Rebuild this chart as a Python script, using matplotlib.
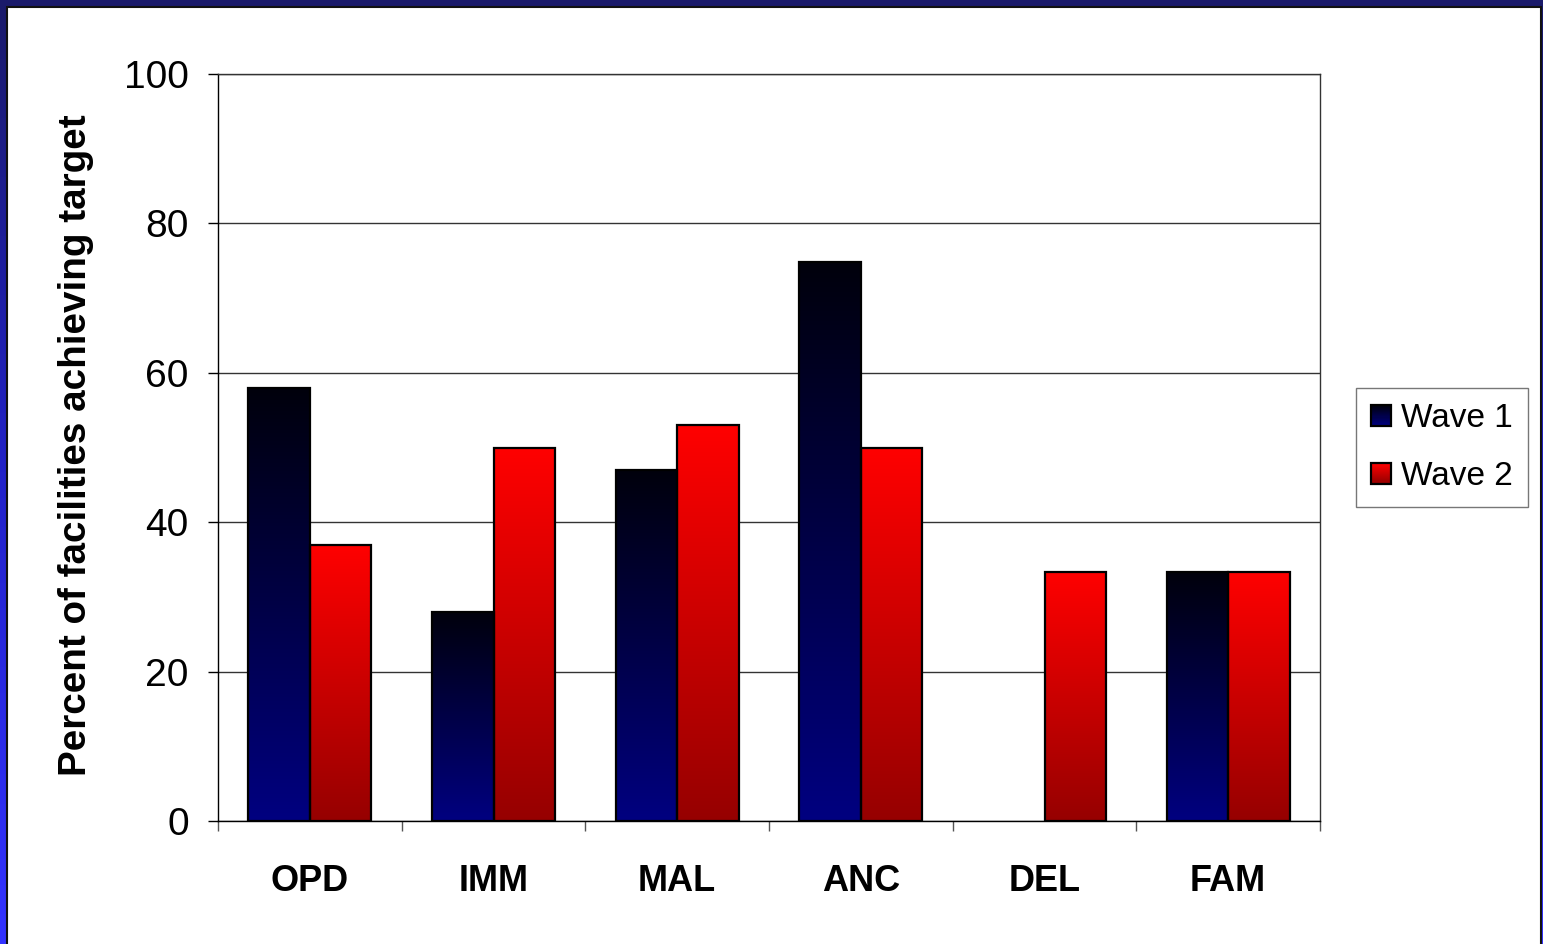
import numpy as np
import matplotlib
matplotlib.use("Agg")
import matplotlib.pyplot as plt
from matplotlib.colors import LinearSegmentedColormap
from matplotlib.patches import Rectangle
from matplotlib.legend_handler import HandlerBase

plt.rcParams['font.family'] = ['Liberation Sans', 'DejaVu Sans']

categories = ["OPD", "IMM", "MAL", "ANC", "DEL", "FAM"]
wave1 = [57.9, 28.0, 47.0, 74.8, 0.0, 33.3]
wave2 = [36.9, 50.0, 53.0, 50.0, 33.3, 33.3]
series_names = ["Wave 1", "Wave 2"]
y_ticks = [0, 20, 40, 60, 80, 100]
y_label = "Percent of facilities achieving target"

# top colour -> bottom colour for each series gradient
grad_w1 = ("#00000c", "#000080")
grad_w2 = ("#ff0000", "#960000")

W, H = 1543, 944
fig = plt.figure(figsize=(W / 100, H / 100), dpi=100)

# slide background: vertical blue gradient with a white panel on top
bg = fig.add_axes([0, 0, 1, 1], zorder=-10)
bg.set_axis_off()
bg_cmap = LinearSegmentedColormap.from_list("bg", ["#1a1a6a", "#2222c8", "#3333ff"])
bg.imshow(np.linspace(0, 1, 256).reshape(-1, 1), cmap=bg_cmap, aspect="auto",
          extent=(0, W, 0, H), origin="upper")
bg.add_patch(Rectangle((7, -5), 1534, H - 7 + 5, facecolor="white",
                       edgecolor="#111111", linewidth=1.5))
bg.set_xlim(0, W)
bg.set_ylim(0, H)

ax = fig.add_axes([218 / W, (H - 821) / H, (1320 - 218) / W, (821 - 74) / H])
ax.set_facecolor("white")

x = np.arange(len(categories))
bw = 0.335


def gradient_bars(xpos, values, colors):
    cmap = LinearSegmentedColormap.from_list("g", [colors[1], colors[0]])
    widths = [1.6 if v > 0 else 0 for v in values]
    bars = ax.bar(xpos, values, width=bw, facecolor="none", edgecolor="black",
                  linewidth=widths, zorder=4)
    grad = np.linspace(0, 1, 256).reshape(-1, 1)
    for b in bars:
        h = b.get_height()
        if h <= 0:
            continue
        x0 = b.get_x()
        ax.imshow(grad, cmap=cmap, aspect="auto", origin="lower",
                  extent=(x0, x0 + b.get_width(), 0, h), zorder=3,
                  interpolation="bilinear")
    return bars


gradient_bars(x - bw / 2, wave1, grad_w1)
gradient_bars(x + bw / 2, wave2, grad_w2)

ax.set_xlim(-0.5, len(categories) - 0.5)
ax.set_ylim(0, 100)
ax.set_yticks(y_ticks)
ax.set_yticklabels([str(t) for t in y_ticks], fontsize=28)
ax.yaxis.grid(True, color="#333333", linewidth=1.0, zorder=0)
ax.set_axisbelow(True)
ax.tick_params(axis="y", direction="out", length=7, width=1, pad=14)

ax.set_xticks(x)
ax.set_xticklabels(categories, fontsize=26, fontweight="bold")
ax.tick_params(axis="x", which="major", length=0, pad=31)
ax.set_xticks(np.arange(len(categories) + 1) - 0.5, minor=True)
ax.tick_params(axis="x", which="minor", direction="out", length=7, width=1,
               color="#555555")

for side in ("top", "right"):
    ax.spines[side].set_color("#333333")
    ax.spines[side].set_linewidth(1.0)
for side in ("left", "bottom"):
    ax.spines[side].set_color("black")
    ax.spines[side].set_linewidth(1.0)

fig.text(76 / W, 1 - 445 / H, y_label, rotation=90, ha="center", va="center",
         fontsize=27.8, fontweight="bold")


class GradientHandler(HandlerBase):
    def __init__(self, colors):
        super().__init__()
        self.colors = colors

    def create_artists(self, legend, orig_handle, xdescent, ydescent, width,
                       height, fontsize, trans):
        cmap = LinearSegmentedColormap.from_list("h", [self.colors[1], self.colors[0]])
        n = 20
        arts = []
        for i in range(n):
            arts.append(Rectangle((-xdescent, -ydescent + height * i / n), width,
                                  height / n + 0.2, facecolor=cmap(i / (n - 1)),
                                  edgecolor="none", transform=trans))
        arts.append(Rectangle((-xdescent, -ydescent), width, height,
                              facecolor="none", edgecolor="black", linewidth=1.6,
                              transform=trans))
        return arts


h1 = Rectangle((0, 0), 1, 1)
h2 = Rectangle((0, 0), 1, 1)
leg = fig.legend([h1, h2], series_names, loc="center left",
                 bbox_to_anchor=(1356 / W, 1 - 447.5 / H), fontsize=24,
                 handler_map={h1: GradientHandler(grad_w1), h2: GradientHandler(grad_w2)},
                 handlelength=0.6, handleheight=0.6, handletextpad=0.3,
                 labelspacing=0.8, borderpad=0.45, fancybox=False,
                 frameon=True, edgecolor="#555555", borderaxespad=0)
leg.get_frame().set_linewidth(1.0)

fig.savefig("out.png", dpi=100)
